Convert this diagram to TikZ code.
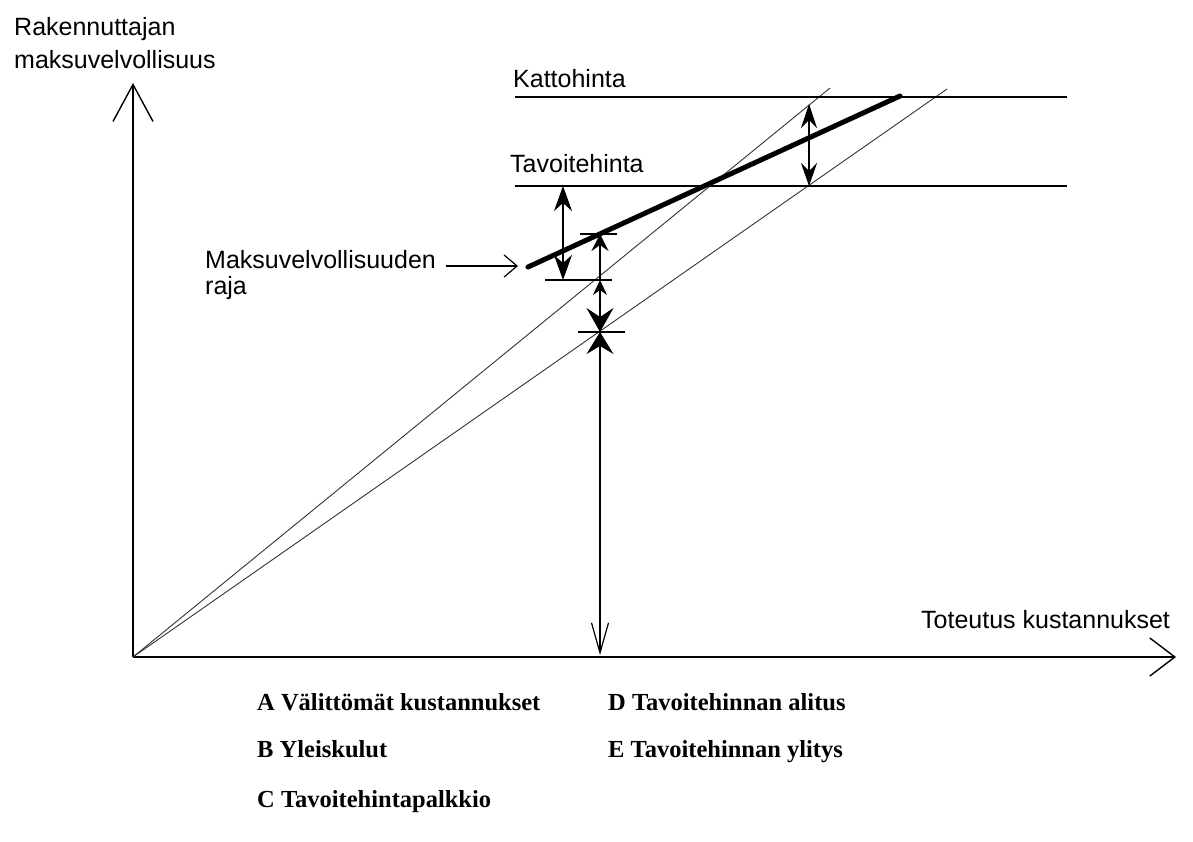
\documentclass[tikz,border=0pt]{standalone}
\usepackage{fontspec}
\newfontfamily\sanslab{Liberation Sans}
\newfontfamily\serlab{Liberation Serif}
\usetikzlibrary{arrows.meta}
\begin{document}
\begin{tikzpicture}[x=1pt,y=-1pt,
  ax/.style={line width=1.4pt, black},
  diag/.style={line width=0.9pt, black!80},
  guide/.style={line width=1.2pt, black},
  heavy/.style={line width=5pt, black, line cap=round},
  lab/.style={font=\fontsize{25}{30}\selectfont\sanslab, inner sep=0pt},
  leg/.style={font=\fontsize{24.5}{30}\selectfont\serlab\bfseries, inner sep=0pt, anchor=base west}
]
\useasboundingbox (0,0) rectangle (1193,841);
% key points
\coordinate (O) at (133,657);
\coordinate (Ytip) at (133,83);
\coordinate (Xtip) at (1176,657);
\coordinate (L1end) at (830,88);
\coordinate (L2end) at (947,89);
\coordinate (K1) at (515,97);
\coordinate (K2) at (1067,97);
\coordinate (T1) at (515,186);
\coordinate (T2) at (1067,186);
\coordinate (M1) at (528,267);
\coordinate (M2) at (900,96);
% axes
\draw[ax, -{Straight Barb[length=37pt,width=40pt]}] (O) -- (Ytip);
\draw[ax, -{Straight Barb[length=25pt,width=38pt]}] (O) -- (Xtip);
% lines from origin
\draw[diag] (O) -- (L1end);
\draw[diag] (O) -- (L2end);
% price levels
\draw[guide] (K1) -- (K2);
\draw[guide] (T1) -- (T2);
% payment limit
\draw[heavy] (M1) -- (M2);
% ticks
\coordinate (ta1) at (545,280); \coordinate (ta2) at (612,280);
\coordinate (tb1) at (580,234); \coordinate (tb2) at (617,234);
\coordinate (tc1) at (578,332); \coordinate (tc2) at (625,332);
\draw[guide] (ta1) -- (ta2);
\draw[guide] (tb1) -- (tb2);
\draw[guide] (tc1) -- (tc2);
% dimension arrows
\coordinate (d1a) at (563,186); \coordinate (d1b) at (563,280);
\draw[guide, {Stealth[length=25pt,width=18pt,inset=8pt]}-{Stealth[length=25pt,width=18pt,inset=8pt]}] (d1a) -- (d1b);
\coordinate (d2a) at (809,104); \coordinate (d2b) at (809,186);
\draw[guide, {Stealth[length=24pt,width=16pt,inset=8pt]}-{Stealth[length=23pt,width=16pt,inset=8pt]}] (d2a) -- (d2b);
\coordinate (p1) at (600,234); \coordinate (p2) at (600,280);
\coordinate (p3) at (600,332); \coordinate (p4) at (600,655);
\draw[guide, -{Stealth[length=17pt,width=17pt,inset=6pt]}] (p2) -- (p1);
\draw[guide, {Stealth[length=15pt,width=14pt,inset=5pt]}-{Stealth[length=24pt,width=27pt,inset=9pt]}] (p2) -- (p3);
\draw[guide, {Stealth[length=22pt,width=27pt,inset=8pt]}-{Straight Barb[length=30pt,width=17pt]}] (p3) -- (p4);
% labels
\node[lab, anchor=north west, align=left, font=\fontsize{25}{33}\selectfont\sanslab] (ylab) at (14,17) {Rakennuttajan\\maksuvelvollisuus};
\node[lab, anchor=base west] (katto) at (513,87) {Kattohinta};
\node[lab, anchor=base west] (tavo) at (510,172) {Tavoitehinta};
\node[lab, anchor=north west, align=left, font=\fontsize{25}{26}\selectfont\sanslab] (mraja) at (205,250) {Maksuvelvollisuuden\\raja};
\node[lab, anchor=base west] (xlab) at (921,628) {Toteutus kustannukset};
\coordinate (mA) at (446,266);
\coordinate (mB) at (518,266);
\draw[guide, -{Straight Barb[length=13pt,width=22pt]}] (mA) -- (mB);
% legend
\node[leg] (legA) at (257,710) {A Välittömät kustannukset};
\node[leg] (legB) at (257,757) {B Yleiskulut};
\node[leg] (legC) at (257,807) {C Tavoitehintapalkkio};
\node[leg] (legD) at (608,710) {D Tavoitehinnan alitus};
\node[leg] (legE) at (608,757) {E Tavoitehinnan ylitys};
\end{tikzpicture}
\end{document}
